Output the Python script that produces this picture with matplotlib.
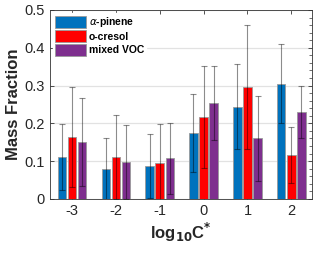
import numpy as np
import matplotlib.pyplot as plt
from matplotlib.ticker import MultipleLocator

plt.rcParams['font.family'] = ['Liberation Sans', 'DejaVu Sans']

bins = [-3, -2, -1, 0, 1, 2]
names = [r'$\alpha$-pinene', 'o-cresol', 'mixed VOC']
pinene = [0.110, 0.078, 0.087, 0.175, 0.244, 0.305]
pinene_err = [0.087, 0.084, 0.085, 0.103, 0.112, 0.105]
cresol = [0.163, 0.111, 0.096, 0.217, 0.296, 0.115]
cresol_err = [0.132, 0.110, 0.101, 0.135, 0.164, 0.074]
mixed = [0.150, 0.098, 0.108, 0.254, 0.160, 0.230]
mixed_err = [0.117, 0.097, 0.094, 0.098, 0.112, 0.068]
yticks = [0, 0.1, 0.2, 0.3, 0.4, 0.5]
colors = ['#0072BD', '#FF0000', '#7E2F8E']

fig = plt.figure(figsize=(3.2, 2.56), dpi=100)
ax = fig.add_axes([0.156, 0.223, 0.819, 0.738])

x = np.array(bins)
w = 0.19
for i, (vals, errs) in enumerate([(pinene, pinene_err), (cresol, cresol_err), (mixed, mixed_err)]):
    pos = x + (i - 1) * 0.23
    ax.bar(pos, vals, w, color=colors[i], edgecolor='#9a9a9a', linewidth=0.6,
           label=names[i], zorder=2)
    ax.errorbar(pos, vals, yerr=errs, fmt='none', ecolor='black', alpha=0.45,
                elinewidth=0.8, capsize=2, capthick=0.8, zorder=3)

ax.set_xlim(-3.5, 2.47)
ax.set_ylim(0, 0.5)
ax.set_xticks(bins)
ax.set_xticklabels([str(b) for b in bins])
ax.set_yticks(yticks)
ax.set_yticklabels(['0', '0.1', '0.2', '0.3', '0.4', '0.5'])
ax.yaxis.set_minor_locator(MultipleLocator(0.02))
ax.tick_params(which='both', direction='in', top=True, right=True, labelsize=10.5,
               colors='#333333', labelcolor='#262626')
ax.tick_params(which='major', length=3, width=0.6)
ax.tick_params(which='minor', length=2, width=0.5, left=False)
ax.grid(axis='y', color='#e2e2e2', linewidth=0.9, zorder=0)
ax.set_axisbelow(True)
for s in ax.spines.values():
    s.set_color('#333333')
    s.set_linewidth(0.6)

ax.set_ylabel('Mass Fraction', fontsize=12, fontweight='bold', color='#262626', labelpad=3)
ax.set_xlabel(r'log$_{\mathbf{10}}$C$^{\mathbf{*}}$', fontsize=12, fontweight='bold',
              color='#262626', labelpad=2)

leg = ax.legend(loc='upper left', prop={'weight': 'bold', 'size': 7.5}, frameon=True,
                fancybox=False, edgecolor='white', framealpha=1, borderpad=0.2,
                handlelength=3.0, handleheight=1.4, handletextpad=0.25, labelspacing=0.12,
                borderaxespad=0.3)

fig.savefig('out.png', dpi=100)
